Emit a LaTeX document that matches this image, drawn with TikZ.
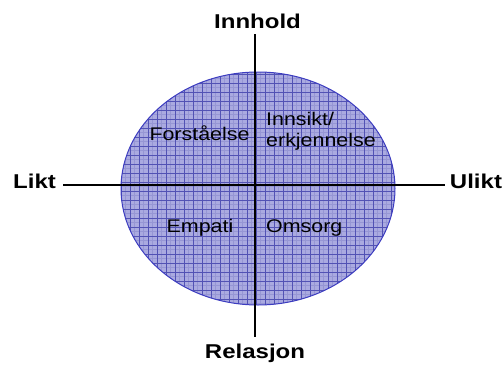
\documentclass[tikz,border=0pt]{standalone}
\usepackage{fontspec}
\setmainfont{Liberation Sans}
\definecolor{ovalfill}{RGB}{170,170,224}
\definecolor{ovalgrid}{RGB}{82,82,180}
\definecolor{ovalfine}{RGB}{150,150,212}
\definecolor{ovalrim}{RGB}{60,60,192}
\tikzset{
  axislabel/.style={font=\fontsize{20}{24}\selectfont\bfseries, inner sep=0pt, xscale=1.2, transform shape},
  fieldlabel/.style={font=\fontsize{18.3}{21}\selectfont, inner sep=0pt, xscale=1.17, transform shape, align=left},
  axisline/.style={line width=1.1pt, black},
  gridline/.style={line width=0.7pt, ovalgrid},
  fineline/.style={line width=0.4pt, ovalfine}
}
\begin{document}
\begin{tikzpicture}[x=1pt,y=-1pt]
                \useasboundingbox (0,0) rectangle (504,367);

                % Drawing the oval
                \fill [ovalfill] (258,188.5) ellipse [x radius=137, y radius=116.5];%
                \begin{scope}
                  \clip (258,188.5) ellipse [x radius=137, y radius=116.5];%
                  % fine texture
                  \foreach \gx in {116.5,121,...,400} \draw [fineline] (\gx,68) -- (\gx,308);%
                  \foreach \gy in {69.5,74,...,308} \draw [fineline] (118,\gy) -- (398,\gy);%
                  % grid
                  \foreach \gx in {121,130,...,400} \draw [gridline] (\gx,68) -- (\gx,308);%
                  \foreach \gy in {74,83,...,308} \draw [gridline] (118,\gy) -- (398,\gy);%
                \end{scope}
                \draw [line width=1pt, ovalrim] (258,188.5) ellipse [x radius=137, y radius=116.5];%

                % Marking axis labels
                \node [axislabel, anchor=base] (innhold) at (257.5,28) {Innhold};%
                \node [axislabel, anchor=base] (relasjon) at (255,358) {Relasjon};%
                \node [axislabel, anchor=base] (likt) at (34.5,188) {Likt};%
                \node [axislabel, anchor=base] (ulikt) at (476,188) {Ulikt};%

                % Drawing the axes
                \coordinate (top) at (255,34);%
                \coordinate (bottom) at (255,337);%
                \coordinate (left) at (63,185);%
                \coordinate (right) at (445,185);%
                \draw [axisline] (left) -- (right);%
                \draw [axisline] (top) -- (bottom);%

                % Marking the four fields
                \node [fieldlabel, anchor=base] (forstaaelse) at (199.5,140) {Forståelse};%
                \node [fieldlabel, anchor=west] (innsikt) at (266,131.5) {Innsikt/\\erkjennelse};%
                \node [fieldlabel, anchor=base] (empati) at (200,232) {Empati};%
                \node [fieldlabel, anchor=base west] (omsorg) at (266,232) {Omsorg};%
\end{tikzpicture}
\end{document}
